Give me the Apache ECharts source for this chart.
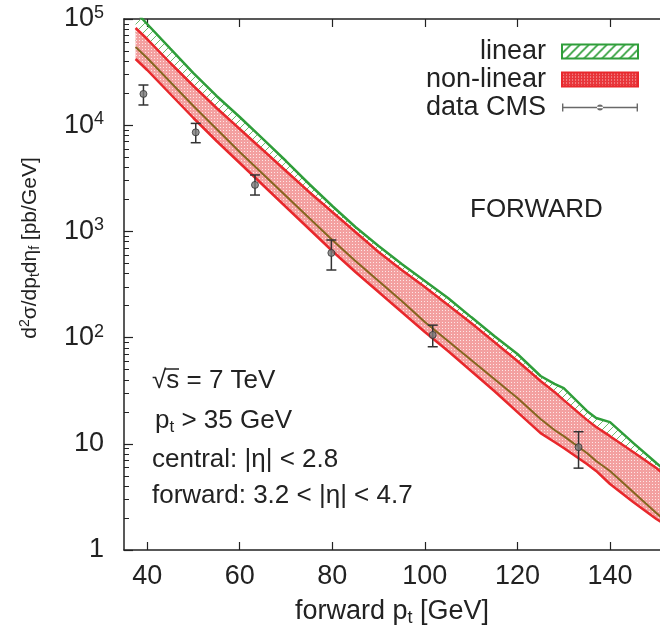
<!DOCTYPE html>
<html>
<head>
<meta charset="utf-8">
<script src="https://cdn.jsdelivr.net/npm/echarts@6/dist/echarts.min.js"></script>
<style>
    html, body { margin: 0; padding: 0; background: #fff; }
    #chart { width: 660px; height: 640px; }
</style>
</head>
<body>
<div id="chart"></div>
<script>
// forward jet pt grid (GeV) shared by all theory curves
var ptGrid = [37.5, 40, 45, 50, 55, 60, 65, 70, 75, 80, 85, 90, 95, 100, 105, 110, 115, 120, 125, 128, 130, 135, 137, 140, 145, 150, 151];
// linear evolution band (pb/GeV)
var linearUpper = [117700, 89700, 52500, 31000, 18840, 11950, 7420, 4600, 2795, 1735, 1100, 729, 493, 341, 236, 156, 103.5, 70.1, 43.5, 36.6, 33.5, 20.4, 17.5, 16.0, 10.2, 6.59, 6.05];
var linearLower = [54500, 42940, 25520, 15160, 9210, 5593, 3471, 2154, 1337, 830, 526, 341, 221, 140, 92.9, 61.5, 40.8, 27.0, 17.1, 13.5, 11.8, 8.19, 6.89, 5.55, 3.52, 2.23, 2.05];
// non-linear evolution band (pb/GeV)
var nonlinUpper = [82300, 64800, 38520, 23400, 14520, 9210, 5840, 3705, 2350, 1523, 987, 640, 433, 300, 203, 137, 90.9, 60.2, 39.0, 30.8, 25.8, 16.8, 14.4, 11.8, 8.37, 5.92, 5.43];
var nonlinLower = [42020, 33100, 19670, 11690, 7100, 4406, 2735, 1697, 1053, 654, 415, 269, 174, 113, 74.8, 48.5, 31.4, 19.9, 12.6, 10.4, 9.13, 6.46, 5.55, 4.18, 2.83, 1.96, 1.84];
// CMS data points
var cmsPt = [39.2, 50.5, 63.3, 79.8, 101.7, 133.2];
var cmsVal = [19700, 8570, 2740, 627, 106, 9.3];
var cmsLo = [15500, 6840, 2200, 433, 82, 5.9];
var cmsHi = [23900, 10400, 3400, 830, 131, 13];
// axis ticks
var xTicks = [40, 60, 80, 100, 120, 140];
var yTicks = [1, 10, 100, 1000, 10000, 100000];
var yTickLabels = ['1', '10', '10^2', '10^3', '10^4', '10^5'];

var FONT = "'Liberation Sans', Arial, sans-serif";
var GREEN = '#2f9e3a', RED = '#e8282c', BROWN = '#86651f', INK = '#222';

var minorTicks = [];
for (var d = 1; d < 100000; d *= 10) {
    for (var m = 2; m <= 9; m++) minorTicks.push(m * d);
}

// fill patterns
function hatchPattern(size, width, color) {
    var c = document.createElement('canvas');
    c.width = size; c.height = size;
    var g = c.getContext('2d');
    g.strokeStyle = color;
    g.lineWidth = width;
    g.beginPath();
    g.moveTo(-1, size + 1); g.lineTo(size + 1, -1);
    g.moveTo(-size / 2 - 1, size / 2 + 1); g.lineTo(size / 2 + 1, -size / 2 - 1);
    g.moveTo(size / 2 - 1, size * 1.5 + 1); g.lineTo(size * 1.5 + 1, size / 2 - 1);
    g.stroke();
    return c;
}
function dotPattern(bg, dot) {
    var c = document.createElement('canvas');
    c.width = 3; c.height = 3;
    var g = c.getContext('2d');
    g.fillStyle = bg; g.fillRect(0, 0, 3, 3);
    g.fillStyle = dot; g.fillRect(1, 1, 1, 1);
    return c;
}
var bandHatch = { image: hatchPattern(8, 1, '#6dbb6d'), repeat: 'repeat' };
var keyHatch = { image: hatchPattern(9, 1.6, GREEN), repeat: 'repeat' };
var bandDots = { image: dotPattern('#f3a0a0', '#fde6e6'), repeat: 'repeat' };
var keyDots = { image: dotPattern('#e8353a', '#f9c8c8'), repeat: 'repeat' };

function pairs(arr) {
    return ptGrid.map(function (p, i) { return [p, arr[i]]; });
}

// band between two curves, drawn as one polygon through the axes' scales
function bandSeries(name, lower, upper, fill) {
    return {
        name: name, type: 'custom', clip: true, silent: true,
        data: ptGrid.map(function (p, i) { return [p, lower[i], upper[i]]; }),
        encode: { x: 0, y: [1, 2] },
        renderItem: function (params, api) {
            if (params.dataIndex !== 0) return;
            var pts = [], i;
            for (i = 0; i < ptGrid.length; i++) pts.push(api.coord([ptGrid[i], upper[i]]));
            for (i = ptGrid.length - 1; i >= 0; i--) pts.push(api.coord([ptGrid[i], lower[i]]));
            var cs = params.coordSys;
            return {
                type: 'group',
                clipPath: { type: 'rect', shape: { x: cs.x, y: cs.y, width: cs.width, height: cs.height } },
                children: [{ type: 'polygon', shape: { points: pts }, style: { fill: fill } }]
            };
        }
    };
}

var myChart = echarts.init(document.getElementById('chart'));

var axisLine = { lineStyle: { color: INK, width: 1.5 } };

var option = {
    animation: false,
    textStyle: { fontFamily: FONT, color: INK },
    grid: [
        { left: 124, right: 0, top: 19, bottom: 90 },
        { left: 124, right: 0, top: 19, bottom: 90 }
    ],
    legend: {
        orient: 'vertical',
        right: 21,
        top: 38,
        align: 'right',
        padding: 0,
        itemWidth: 76,
        itemHeight: 14,
        itemGap: 1,
        selectedMode: false,
        textStyle: { fontSize: 27, color: INK, fontFamily: FONT, lineHeight: 26, padding: [0, 11, 0, 0] },
        data: [
            { name: 'linear', icon: 'rect', itemStyle: { color: keyHatch, borderColor: GREEN, borderWidth: 2 } },
            { name: 'non-linear', icon: 'rect', itemStyle: { color: keyDots, borderColor: RED, borderWidth: 2 } },
            {
                name: 'data CMS',
                icon: 'path://M0,0M76,14M0,6.3h76v1.4h-76zM0,3h1.4v8h-1.4zM74.6,3h1.4v8h-1.4zM35,7a3,3 0 1,0 6,0a3,3 0 1,0 -6,0z',
                itemStyle: { color: '#444', borderWidth: 0 }
            }
        ]
    },
    xAxis: [
        {
            gridIndex: 0, type: 'value', min: 35, max: 150.8, position: 'bottom',
            axisLine: axisLine,
            axisTick: { inside: true, length: 8, customValues: xTicks, lineStyle: { color: INK, width: 1.2 } },
            axisLabel: { customValues: xTicks, fontSize: 27, color: INK, margin: 13, fontFamily: FONT },
            splitLine: { show: false },
            name: '{n|forward p}{s|t}{n| [GeV]}',
            nameLocation: 'middle',
            nameGap: 47,
            nameTextStyle: {
                rich: {
                    n: { fontSize: 27, fontFamily: FONT, color: INK, lineHeight: 30 },
                    s: { fontSize: 18, fontFamily: FONT, color: INK, lineHeight: 18, verticalAlign: 'bottom' }
                }
            }
        },
        {
            gridIndex: 0, type: 'value', min: 35, max: 150.8, position: 'top',
            axisLine: axisLine,
            axisTick: { inside: true, length: 8, customValues: xTicks, lineStyle: { color: INK, width: 1.2 } },
            axisLabel: { show: false },
            splitLine: { show: false }
        },
        { gridIndex: 1, type: 'value', min: 35, max: 150.8, show: false }
    ],
    yAxis: [
        {
            gridIndex: 0, type: 'log', logBase: 10, min: 1, max: 100000,
            axisLine: axisLine,
            axisTick: { inside: true, length: 9, customValues: yTicks, lineStyle: { color: INK, width: 1.2 } },
            axisLabel: {
                customValues: yTicks,
                margin: 20,
                formatter: function (v) {
                    for (var i = 0; i < yTicks.length; i++) {
                        if (Math.abs(yTicks[i] - v) / yTicks[i] < 1e-6) {
                            var parts = yTickLabels[i].split('^');
                            return parts.length > 1 ? '{b|' + parts[0] + '}{e|' + parts[1] + '}' : '{b|' + parts[0] + '}';
                        }
                    }
                    return '';
                },
                rich: {
                    b: { fontSize: 27, fontFamily: FONT, color: INK, lineHeight: 30 },
                    e: { fontSize: 18, fontFamily: FONT, color: INK, lineHeight: 18, verticalAlign: 'top' }
                }
            },
            splitLine: { show: false }
        },
        {
            gridIndex: 1, type: 'log', logBase: 10, min: 1, max: 100000,
            axisLine: { show: false },
            axisTick: { inside: true, length: 5, customValues: minorTicks, lineStyle: { color: INK, width: 1 } },
            axisLabel: { show: false },
            splitLine: { show: false }
        }
    ],
    graphic: [
        {
            type: 'text', x: 30, y: 248, rotation: Math.PI / 2,
            style: {
                text: '{n|d}{p|2}{n|σ/dp}{s|t}{n|dη}{s|f}{n| [pb/GeV]}',
                align: 'center', verticalAlign: 'middle',
                rich: {
                    n: { fontSize: 21, fontFamily: FONT, fill: INK, lineHeight: 24 },
                    p: { fontSize: 14, fontFamily: FONT, fill: INK, lineHeight: 14, verticalAlign: 'top' },
                    s: { fontSize: 14, fontFamily: FONT, fill: INK, lineHeight: 14, verticalAlign: 'bottom' }
                }
            }
        },
        { type: 'text', x: 470, y: 210, style: { text: 'FORWARD', fontSize: 26, fontFamily: FONT, fill: INK, verticalAlign: 'middle' } },
        { type: 'text', x: 152, y: 381, style: { text: '√s = 7 TeV', fontSize: 26, fontFamily: FONT, fill: INK, verticalAlign: 'middle' } },
        { type: 'line', shape: { x1: 165, y1: 369, x2: 179, y2: 369 }, style: { stroke: INK, lineWidth: 1.5 } },
        {
            type: 'text', x: 155, y: 421,
            style: {
                text: '{n|p}{s|t}{n| > 35 GeV}', verticalAlign: 'middle',
                rich: {
                    n: { fontSize: 26, fontFamily: FONT, fill: INK, lineHeight: 30 },
                    s: { fontSize: 17, fontFamily: FONT, fill: INK, lineHeight: 17, verticalAlign: 'bottom' }
                }
            }
        },
        { type: 'text', x: 152, y: 460, style: { text: 'central: |η| < 2.8', fontSize: 26, fontFamily: FONT, fill: INK, verticalAlign: 'middle' } },
        { type: 'text', x: 152, y: 496, style: { text: 'forward: 3.2 < |η| < 4.7', fontSize: 26, fontFamily: FONT, fill: INK, verticalAlign: 'middle' } }
    ],
    series: [
        bandSeries('linear band', linearLower, linearUpper, bandHatch),
        bandSeries('non-linear band', nonlinLower, nonlinUpper, bandDots),
        {
            name: 'linear', type: 'line', data: pairs(linearUpper),
            symbol: 'none', itemStyle: { color: GREEN },
            lineStyle: { color: GREEN, width: 2.5 }
        },
        {
            name: 'non-linear', type: 'line', data: pairs(nonlinUpper),
            symbol: 'none', itemStyle: { color: RED },
            lineStyle: { color: RED, width: 2.5 }
        },
        {
            name: 'non-linear lower', type: 'line', data: pairs(nonlinLower),
            symbol: 'none', lineStyle: { color: RED, width: 2.5 }
        },
        {
            name: 'linear lower', type: 'line', data: pairs(linearLower),
            symbol: 'none', lineStyle: { color: BROWN, width: 2 }
        },
        {
            name: 'data CMS error', type: 'custom',
            data: cmsPt.map(function (p, i) { return [p, cmsLo[i], cmsHi[i]]; }),
            encode: { x: 0, y: [1, 2] },
            z: 5,
            renderItem: function (params, api) {
                var lo = api.coord([api.value(0), api.value(1)]);
                var hi = api.coord([api.value(0), api.value(2)]);
                var st = { stroke: '#333', lineWidth: 1.5 };
                var w = 5;
                return {
                    type: 'group',
                    children: [
                        { type: 'line', shape: { x1: lo[0], y1: lo[1], x2: hi[0], y2: hi[1] }, style: st },
                        { type: 'line', shape: { x1: lo[0] - w, y1: lo[1], x2: lo[0] + w, y2: lo[1] }, style: st },
                        { type: 'line', shape: { x1: hi[0] - w, y1: hi[1], x2: hi[0] + w, y2: hi[1] }, style: st }
                    ]
                };
            }
        },
        {
            name: 'data CMS', type: 'scatter',
            data: cmsPt.map(function (p, i) { return [p, cmsVal[i]]; }),
            symbol: 'circle', symbolSize: 7, z: 6,
            itemStyle: { color: '#7a7a7a', borderColor: '#333', borderWidth: 1 }
        }
    ]
};

myChart.setOption(option);
</script>
</body>
</html>
